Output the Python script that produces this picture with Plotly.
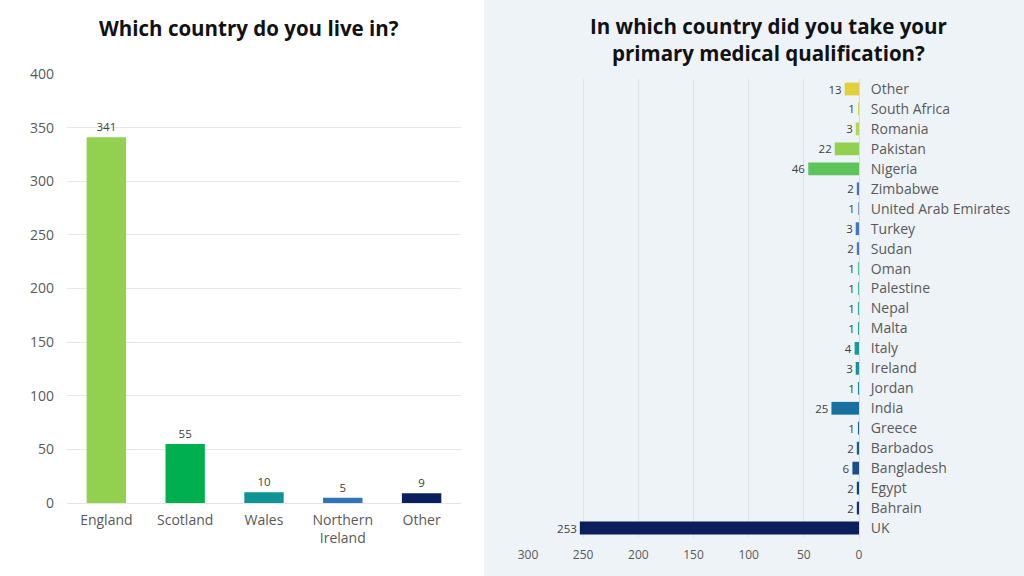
import plotly.graph_objects as go

# Left chart data
live_cats = ["England", "Scotland", "Wales", "Northern<br>Ireland", "Other"]
live_vals = [341, 55, 10, 5, 9]
live_colors = ["#92d050", "#00b050", "#0e9494", "#2e75b6", "#0b1f5c"]
live_ticks = [0, 50, 100, 150, 200, 250, 300, 350, 400]

# Right chart data (top to bottom)
qual_cats = ["Other", "South Africa", "Romania", "Pakistan", "Nigeria", "Zimbabwe",
             "United Arab Emirates", "Turkey", "Sudan", "Oman", "Palestine", "Nepal",
             "Malta", "Italy", "Ireland", "Jordan", "India", "Greece", "Barbados",
             "Bangladesh", "Egypt", "Bahrain", "UK"]
qual_vals = [13, 1, 3, 22, 46, 2, 1, 3, 2, 1, 1, 1, 1, 4, 3, 1, 25, 1, 2, 6, 2, 2, 253]
qual_colors = ["#e2cf3c", "#c8d94e", "#b5d44f", "#92d050", "#5cc45a", "#4472c4",
               "#8a9fd0", "#4472c4", "#4a74c0", "#4fc18f", "#3fb894", "#2fb19a",
               "#25a89a", "#179c9c", "#138f9f", "#1b8a9a", "#1670a0", "#1c5f95",
               "#1b5a8f", "#1c4a8a", "#143d7a", "#0f3270", "#0b1f5c"]
qual_ticks = [0, 50, 100, 150, 200, 250, 300]

TICK_FONT = dict(family="Open Sans, sans-serif", size=14, color="#595959")
LABEL_FONT = dict(family="Open Sans, sans-serif", size=11.5, color="#404040")
TITLE_FONT = dict(family="Open Sans, sans-serif", size=20.5, color="#111111")

fig = go.Figure()

fig.add_trace(go.Bar(
    x=live_cats, y=live_vals, marker=dict(color=live_colors, line=dict(width=0)),
    width=0.5, text=live_vals, textposition="outside", textfont=LABEL_FONT,
    constraintext="none", cliponaxis=False, xaxis="x", yaxis="y",
    showlegend=False, hoverinfo="x+y"))

fig.add_trace(go.Bar(
    x=qual_vals, y=qual_cats, orientation="h",
    marker=dict(color=qual_colors, line=dict(width=0)),
    width=0.64, text=qual_vals, textposition="outside", textfont=LABEL_FONT,
    constraintext="none", cliponaxis=False, xaxis="x2", yaxis="y2",
    showlegend=False, hoverinfo="x+y"))

fig.update_layout(
    width=1024, height=576,
    margin=dict(l=0, r=0, t=0, b=0, autoexpand=False),
    paper_bgcolor="white", plot_bgcolor="rgba(0,0,0,0)",
    font=dict(family="Open Sans, sans-serif"),
    shapes=[dict(type="rect", xref="paper", yref="paper", x0=0.4727, x1=1, y0=0, y1=1,
                 fillcolor="#eef3f8", line=dict(width=0), layer="below")],
    xaxis=dict(domain=[0.0654, 0.4502], showgrid=False, zeroline=False,
               showline=True, linecolor="#e3e3e3", linewidth=1, automargin=False,
               tickfont=TICK_FONT, ticks="", fixedrange=True, ticklabelstandoff=4),
    yaxis=dict(domain=[0.1267, 0.8715], range=[0, 400], tickvals=live_ticks,
               showgrid=True, gridcolor="#e8e8e8", zeroline=False, showline=False,
               tickfont=TICK_FONT, ticks="", ticklabelstandoff=12, automargin=False),
    xaxis2=dict(domain=[0.5156, 0.8389], range=[300, 0], tickvals=qual_ticks,
                showgrid=True, gridcolor="#dde3ea", zeroline=False, showline=False,
                tickfont=dict(family="Open Sans, sans-serif", size=12, color="#595959"),
                ticks="", anchor="y2", ticklabelstandoff=8, automargin=False),
    yaxis2=dict(domain=[0.066, 0.8628], categoryorder="array", categoryarray=qual_cats,
                autorange="reversed", side="right", anchor="x2", automargin=False,
                showgrid=False, zeroline=False, showline=True, linecolor="#d5dbe3",
                tickfont=TICK_FONT, ticks="", ticklabelstandoff=8),
    annotations=[
        dict(text="<b>Which country do you live in?</b>", x=249/1024, y=1-28/576,
             xref="paper", yref="paper", xanchor="center", yanchor="middle",
             showarrow=False, font=TITLE_FONT),
        dict(text="<b>In which country did you take your<br>primary medical qualification?</b>",
             x=768/1024, y=1-39.5/576, xref="paper", yref="paper", xanchor="center",
             yanchor="middle", showarrow=False, font=TITLE_FONT),
    ],
)

fig.write_html("out.html", config={"displayModeBar": False},
               post_script="document.body.style.margin='0';document.body.style.overflow='hidden';")
